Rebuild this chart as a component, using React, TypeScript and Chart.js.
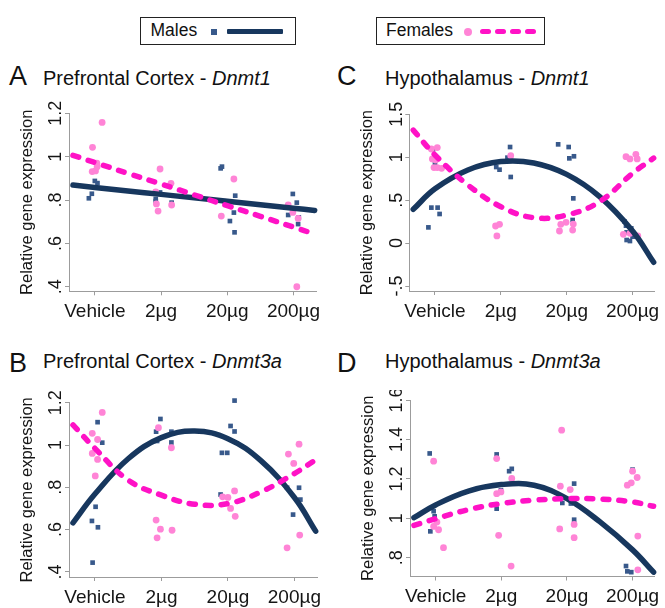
import React, { useEffect, useRef } from "react";
import { Chart, registerables } from "chart.js";

Chart.register(...registerables);

const FONT = "'Liberation Sans', Arial, Helvetica, sans-serif";
const MALE_LINE = "#17375e";
const MALE_PT = "#38598b";
const FEMALE_LINE = "#ff12c6";
const FEMALE_PT = "#ff84d6";
const AXIS = "#9c9c9c";

// ---------- shared ----------
const doseTicks = [0, 1, 2, 3];
const doseLabels = ["Vehicle", "2µg", "20µg", "200µg"];
const fitX = [-0.33, 0, 0.5, 1, 1.5, 2, 2.5, 3, 3.32];

// ---------- Panel A: Prefrontal Cortex - Dnmt1 ----------
const aYTicks = [0.4, 0.6, 0.8, 1, 1.2];
const aYLabels = [".4", ".6", ".8", "1", "1.2"];
const aMales = [
  [-0.09, 0.808], [-0.045, 0.829], [0, 0.888], [0.04, 0.878],
  [0.92, 0.805], [0.92, 0.795], [0.985, 0.835], [1.16, 0.788],
  [1.9, 0.946], [1.92, 0.954], [2.04, 0.703], [2.1, 0.742], [2.11, 0.651], [2.12, 0.82],
  [2.99, 0.828], [3.05, 0.788], [2.92, 0.731], [3.08, 0.72], [3.07, 0.689],
];
const aFemales = [
  [0.11, 1.158], [-0.035, 1.043], [-0.04, 0.931], [0.01, 0.934], [0.035, 0.954], [0.03, 0.97],
  [0.985, 0.943], [0.92, 0.838], [0.93, 0.782], [0.955, 0.749], [1.15, 0.877], [1.16, 0.777],
  [2.1, 0.897], [1.91, 0.726], [1.97, 0.79],
  [2.92, 0.777], [2.99, 0.743], [3.05, 0.4], [3.07, 0.715],
];
const aMaleFit = [0.869, 0.858, 0.842, 0.826, 0.81, 0.794, 0.778, 0.762, 0.752];
const aFemaleFit = [1.006, 0.973, 0.923, 0.874, 0.824, 0.774, 0.725, 0.675, 0.643];

// ---------- Panel B: Prefrontal Cortex - Dnmt3a ----------
const bYTicks = [0.4, 0.6, 0.8, 1, 1.2];
const bYLabels = [".4", ".6", ".8", "1", "1.2"];
const bMales = [
  [0.04, 1.108], [0.11, 1.011], [0.01, 0.708], [-0.045, 0.641], [0.045, 0.611], [-0.035, 0.444],
  [0.985, 1.123], [0.92, 1.063], [0.935, 1.019], [1.15, 1.063], [1.15, 1.012],
  [2.1, 1.21], [2.04, 1.09], [2.1, 1.064], [1.91, 0.963], [1.99, 0.963], [1.89, 0.766],
  [2.89, 0.798], [3.07, 0.798], [3.09, 0.742], [2.98, 0.671],
];
const bFemales = [
  [0.11, 1.154], [-0.04, 1.055], [0.04, 1.026], [-0.04, 0.96], [0.04, 0.932], [0.005, 0.854],
  [0.955, 1.082], [1.15, 0.987], [0.92, 0.645], [0.985, 0.602], [0.935, 0.561], [1.16, 0.597],
  [1.92, 0.755], [2.0, 0.752], [2.1, 0.783], [2.04, 0.7], [2.11, 0.663],
  [2.91, 0.957], [2.99, 0.913], [3.07, 1.004], [3.08, 0.574], [2.89, 0.514],
];
const bMaleFit = [0.632, 0.768, 0.935, 1.035, 1.066, 1.03, 0.925, 0.752, 0.593];
const bFemaleFit = [1.095, 0.984, 0.834, 0.763, 0.72, 0.723, 0.779, 0.865, 0.93];

// ---------- Panel C: Hypothalamus - Dnmt1 ----------
const cYTicks = [-0.5, 0, 0.5, 1, 1.5];
const cYLabels = ["-.5", "0", ".5", "1", "1.5"];
const cMales = [
  [-0.03, 1.092], [0, 0.925], [-0.055, 0.413], [0.04, 0.413], [0.07, 0.339], [-0.1, 0.183],
  [1.14, 1.119], [1.1, 0.995], [0.93, 0.886], [0.98, 0.855], [1.15, 0.77],
  [1.87, 1.15], [2.03, 1.119], [2.04, 0.987], [2.11, 1.011], [2.1, 0.521], [2.09, 0.269],
  [2.88, 0.25], [2.9, 0.203], [2.98, 0.172], [2.91, 0.125], [3.0, 0.075], [2.91, 0.036], [2.96, 0.024], [3.03, 0.075],
];
const cFemales = [
  [0.035, 1.112], [-0.055, 1.096], [-0.04, 0.98], [-0.015, 0.879], [0.035, 0.879], [0.1, 0.871], [0.01, 0.968],
  [0.92, 0.199], [0.98, 0.218], [0.94, 0.083], [1.15, 1.018],
  [1.89, 0.141], [1.91, 0.218], [1.99, 0.242], [2.09, 0.152], [2.1, 0.222],
  [2.9, 1.007], [2.96, 0.98], [3.05, 1.034], [3.07, 0.98], [2.86, 0.102], [3.08, 0.083], [2.96, 0.114],
];
const cMaleFit = [0.393, 0.632, 0.851, 0.949, 0.933, 0.8, 0.541, 0.141, -0.224];
const cFemaleFit = [1.316, 1.026, 0.677, 0.424, 0.296, 0.327, 0.483, 0.813, 0.99];

// ---------- Panel D: Hypothalamus - Dnmt3a ----------
const dYTicks = [0.8, 1, 1.2, 1.4, 1.6];
const dYLabels = [".8", "1", "1.2", "1.4", "1.6"];
const dMales = [
  [-0.09, 1.329], [-0.03, 1.036], [-0.015, 1.01], [-0.08, 0.934],
  [0.93, 1.324], [0.93, 1.049], [0.995, 1.142], [1.12, 1.239], [1.16, 1.251],
  [1.93, 1.078], [2.06, 1.075], [2.11, 1.176], [2.11, 0.993],
  [3.0, 1.247], [2.9, 0.758], [2.92, 0.731], [2.98, 0.727],
];
const dFemales = [
  [-0.03, 1.29], [-0.03, 0.959], [0.045, 0.942], [0.02, 0.981], [0.12, 0.851],
  [0.93, 1.303], [0.93, 1.125], [0.995, 1.134], [0.96, 0.914], [1.16, 1.202], [1.15, 0.758],
  [1.92, 1.447], [1.9, 1.163], [2.05, 1.146], [1.89, 0.946], [2.11, 0.969], [2.11, 0.902],
  [2.92, 1.168], [2.98, 1.18], [3.07, 1.207], [3.0, 1.239], [3.08, 0.91], [3.08, 0.739],
];
const dMaleFit = [1.003, 1.068, 1.138, 1.171, 1.168, 1.1, 0.983, 0.84, 0.727];
const dFemaleFit = [0.964, 0.998, 1.044, 1.075, 1.092, 1.1, 1.098, 1.083, 1.061];

// ---------- layout (page pixels) ----------
const panels = [
  { key: "A", left: 0, top: 100, width: 330, height: 230, yAxisW: 69, xAxisH: 38.7, padTop: 13.3, padRight: 14,
    yMin: 0.379, yMax: 1.2, yTicks: aYTicks, yLabels: aYLabels, males: aMales, females: aFemales, maleFit: aMaleFit, femaleFit: aFemaleFit },
  { key: "B", left: 0, top: 390, width: 330, height: 218, yAxisW: 69, xAxisH: 31, padTop: 12.7, padRight: 13,
    yMin: 0.376, yMax: 1.2, yTicks: bYTicks, yLabels: bYLabels, males: bMales, females: bFemales, maleFit: bMaleFit, femaleFit: bFemaleFit },
  { key: "C", left: 340, top: 100, width: 325, height: 230, yAxisW: 69.3, xAxisH: 39, padTop: 14.3, padRight: 9,
    yMin: -0.558, yMax: 1.5, yTicks: cYTicks, yLabels: cYLabels, males: cMales, females: cFemales, maleFit: cMaleFit, femaleFit: cFemaleFit },
  { key: "D", left: 341, top: 390, width: 324, height: 218, yAxisW: 69, xAxisH: 31.5, padTop: 10, padRight: 9,
    yMin: 0.705, yMax: 1.6, yTicks: dYTicks, yLabels: dYLabels, males: dMales, females: dFemales, maleFit: dMaleFit, femaleFit: dFemaleFit },
];

const titles = [
  { letter: "A", region: "Prefrontal Cortex - ", gene: "Dnmt1", lx: 9, tx: 43, letterBase: 86, titleBase: 85 },
  { letter: "C", region: "Hypothalamus - ", gene: "Dnmt1", lx: 337, tx: 385, letterBase: 86, titleBase: 85 },
  { letter: "B", region: "Prefrontal Cortex - ", gene: "Dnmt3a", lx: 9, tx: 43, letterBase: 373, titleBase: 367.5 },
  { letter: "D", region: "Hypothalamus - ", gene: "Dnmt3a", lx: 337, tx: 385, letterBase: 373, titleBase: 367.5 },
];

function Panel({ cfg }: { cfg: any }) {
  const ref = useRef<HTMLCanvasElement>(null);
  useEffect(() => {
    const chart = new Chart(ref.current as HTMLCanvasElement, {
      type: "scatter",
      data: {
        datasets: [
          {
            data: cfg.males.map(([x, y]: number[]) => ({ x, y })),
            pointStyle: "rect", pointRadius: 3.3, backgroundColor: MALE_PT, borderWidth: 0, order: 4, clip: false,
          } as any,
          {
            data: cfg.females.map(([x, y]: number[]) => ({ x, y })),
            pointStyle: "circle", pointRadius: 3.4, backgroundColor: FEMALE_PT, borderWidth: 0, order: 3, clip: false,
          },
          {
            data: fitX.map((x, i) => ({ x, y: cfg.maleFit[i] })),
            showLine: true, pointRadius: 0, borderColor: MALE_LINE, borderWidth: 5.5,
            borderCapStyle: "round", borderJoinStyle: "round", tension: 0.4, order: 2, clip: false,
          },
          {
            data: fitX.map((x, i) => ({ x, y: cfg.femaleFit[i] })),
            showLine: true, pointRadius: 0, borderColor: FEMALE_LINE, borderWidth: 5.5,
            borderDash: [6, 10], borderCapStyle: "round", tension: 0.4, order: 1, clip: false,
          },
        ],
      },
      options: {
        animation: false,
        responsive: false,
        devicePixelRatio: 1,
        events: [],
        layout: { padding: { top: cfg.padTop, right: cfg.padRight, left: 0, bottom: 0 } },
        plugins: { legend: { display: false }, tooltip: { enabled: false }, title: { display: false } },
        scales: {
          x: {
            type: "linear",
            min: -0.39,
            max: 3.34,
            afterBuildTicks: (s: any) => { s.ticks = doseTicks.map((v) => ({ value: v })); },
            afterFit: (s: any) => { s.height = cfg.xAxisH; },
            ticks: {
              callback: (_v: any, i: number) => doseLabels[i],
              font: { family: FONT, size: 19 },
              color: "#151515",
              padding: 5,
              maxRotation: 0,
              minRotation: 0,
              autoSkip: false,
            },
            grid: { drawOnChartArea: false, drawTicks: true, tickLength: 4, color: AXIS },
            border: { display: true, color: AXIS, width: 1 },
          },
          y: {
            type: "linear",
            min: cfg.yMin,
            max: cfg.yMax,
            afterBuildTicks: (s: any) => { s.ticks = cfg.yTicks.map((v: number) => ({ value: v })); },
            afterFit: (s: any) => { s.width = cfg.yAxisW; },
            ticks: {
              callback: (_v: any, i: number) => cfg.yLabels[i],
              font: { family: FONT, size: 18 },
              color: "#151515",
              minRotation: 90,
              maxRotation: 90,
              crossAlign: "center",
              padding: -4,
              autoSkip: false,
            },
            grid: { drawOnChartArea: false, drawTicks: true, tickLength: 4, color: AXIS },
            border: { display: true, color: AXIS, width: 1 },
            title: {
              display: true,
              text: "Relative gene expression",
              font: { family: FONT, size: 16.5 },
              color: "#151515",
              padding: { top: 17.5, bottom: 0 },
            },
          },
        },
      } as any,
    });
    return () => chart.destroy();
  }, [cfg]);
  return (
    <canvas
      ref={ref}
      width={cfg.width}
      height={cfg.height}
      style={{ position: "absolute", left: cfg.left, top: cfg.top, width: cfg.width, height: cfg.height }}
    />
  );
}

function Dash({ left }: { left: number }) {
  return <div style={{ position: "absolute", left, top: 11, width: 11, height: 5, borderRadius: 2.5, background: FEMALE_LINE }} />;
}

export default function App() {
  return (
    <div style={{ position: "absolute", left: 0, top: 0, width: 665, height: 608, background: "#fff", fontFamily: FONT, color: "#111", overflow: "hidden" }}>
      {/* legend */}
      <div style={{ position: "absolute", left: 140, top: 17, width: 156, height: 28, boxSizing: "border-box", border: "1.5px solid #222", background: "#fff" }}>
        <div style={{ position: "absolute", left: 9.5, top: 4, fontSize: 17.5, lineHeight: "17px" }}>Males</div>
        <div style={{ position: "absolute", left: 70, top: 10.5, width: 6, height: 6, background: MALE_PT }} />
        <div style={{ position: "absolute", left: 86, top: 11, width: 56, height: 5, borderRadius: 1, background: MALE_LINE }} />
      </div>
      <div style={{ position: "absolute", left: 376, top: 17, width: 169, height: 28, boxSizing: "border-box", border: "1.5px solid #222", background: "#fff" }}>
        <div style={{ position: "absolute", left: 9, top: 4, fontSize: 17.5, lineHeight: "17px" }}>Females</div>
        <div style={{ position: "absolute", left: 87, top: 9.5, width: 8, height: 8, borderRadius: 4, background: FEMALE_PT }} />
        <Dash left={103} />
        <Dash left={118} />
        <Dash left={133} />
        <Dash left={148} />
      </div>

      {/* panel titles */}
      {titles.map((t) => (
        <React.Fragment key={t.letter}>
          <div style={{ position: "absolute", left: t.lx, top: t.letterBase - 0.8465 * 27, fontSize: 27, lineHeight: 1, whiteSpace: "nowrap" }}>{t.letter}</div>
          <div style={{ position: "absolute", left: t.tx, top: t.titleBase - 0.8465 * 20, fontSize: 20, lineHeight: 1, whiteSpace: "nowrap" }}>
            {t.region}<i>{t.gene}</i>
          </div>
        </React.Fragment>
      ))}

      {panels.map((p) => (
        <Panel key={p.key} cfg={p} />
      ))}
    </div>
  );
}
